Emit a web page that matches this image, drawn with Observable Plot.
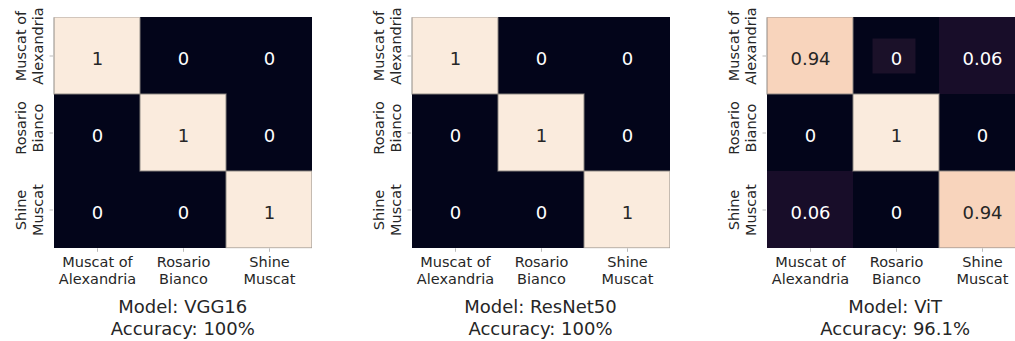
<!DOCTYPE html>
<html>
<head>
<meta charset="utf-8">
<script src="https://cdn.jsdelivr.net/npm/d3@7"></script>
<script src="https://cdn.jsdelivr.net/npm/@observablehq/plot@0.6"></script>
<style>
  body { margin: 0; background: #fff; }
  #chart { position: relative; width: 1015px; height: 341px; overflow: hidden; background: #fff;
           font-family: "DejaVu Sans", sans-serif; }
  .panel { position: absolute; top: 0; }
  .panel svg { max-width: none !important; }
  .title { position: absolute; top: 296px; width: 259px; text-align: center; font-size: 18px;
           line-height: 21.5px; color: #262626; white-space: pre; }
</style>
</head>
<body>
<div id="chart"></div>
<script>
// Grape varieties (rows = true class, columns = predicted class)
const classes = ["Muscat of\nAlexandria", "Rosario\nBianco", "Shine\nMuscat"];
const models = ["VGG16", "ResNet50", "ViT"];
const accuracies = ["100%", "100%", "96.1%"];

// Normalized confusion matrices
const vgg16Matrix    = [[1, 0, 0], [0, 1, 0], [0, 0, 1]];
const resnet50Matrix = [[1, 0, 0], [0, 1, 0], [0, 0, 1]];
const vitMatrix      = [[0.94, 0, 0.06], [0, 1, 0], [0.06, 0, 0.94]];

// Annotation backing drawn behind one of the ViT labels
const vitLabelBacking = [{actual: "Muscat of\nAlexandria", predicted: "Rosario\nBianco"}];

// "rocket" colormap stops
const rocketStops = ["#03051a", "#35193e", "#701f57", "#ad1759", "#e13342", "#f37651", "#f6b48f", "#faebdd"];
const rocket = d3.piecewise(d3.interpolateRgb, rocketStops);

const matrices = [vgg16Matrix, resnet50Matrix, vitMatrix];
const heatLeft = [53.3, 411, 765.7];
const ML = 60, MR = 10, MT = 17.3, MB = 41.7, HEAT = 259;
const yLabelShift = [-10, -5, 0];
const chart = document.getElementById("chart");

matrices.forEach((matrix, i) => {
  const cells = matrix.flatMap((row, r) =>
    row.map((v, c) => ({actual: classes[r], predicted: classes[c], value: v})));
  const light = cells.filter(d => d.value >= 0.5);
  const dark = cells.filter(d => d.value < 0.5);

  const marks = [
    Plot.cell(cells, {x: "predicted", y: "actual", fill: "value"}),
    Plot.cell(light, {x: "predicted", y: "actual", fill: "none", stroke: "#8c8782",
                      strokeWidth: 1.2, strokeOpacity: 0.8, clip: "frame"})
  ];
  if (models[i] === "ViT") {
    marks.push(Plot.cell(vitLabelBacking, {x: "predicted", y: "actual", fill: "#1b1129",
      insetLeft: 19.5, insetRight: 23.5, insetTop: 21.5, insetBottom: 20.5}));
  }
  marks.push(
    Plot.text(light, {x: "predicted", y: "actual", text: d => String(d.value),
                      fill: "#262626", fontSize: 18, dy: 3}),
    Plot.text(dark, {x: "predicted", y: "actual", text: d => String(d.value),
                     fill: "#ffffff", fontSize: 18, dy: 3}),
    Plot.axisX({tickSize: 3.5, tickFormat: () => "", stroke: "#bbbbbb", label: null}),
    Plot.axisY({tickSize: 3.5, tickFormat: () => "", stroke: "#bbbbbb", label: null}),
    Plot.text(classes, {x: d => d, frameAnchor: "bottom", lineAnchor: "top", dy: 6,
                        fontSize: 14.5, lineHeight: 1.16, fill: "#262626"}),
    ...classes.map((c, k) => Plot.text([c], {y: d => d, frameAnchor: "left", dx: -24.5,
      dy: yLabelShift[k], rotate: -90, textAnchor: "middle", lineAnchor: "middle",
      fontSize: 14.5, lineHeight: 1.16, fill: "#262626"}))
  );

  const plot = Plot.plot({
    width: ML + HEAT + MR,
    height: 290,
    marginLeft: ML, marginRight: MR, marginTop: MT, marginBottom: MB,
    style: {fontFamily: "DejaVu Sans, sans-serif", background: "transparent", overflow: "visible", maxWidth: "none"},
    x: {domain: classes, padding: 0, axis: null},
    y: {domain: classes, padding: 0, axis: null},
    color: {domain: [0, 1], interpolate: rocket},
    marks
  });

  const wrap = document.createElement("div");
  wrap.className = "panel";
  wrap.style.left = (heatLeft[i] - ML) + "px";
  wrap.style.width = (ML + HEAT + MR) + "px";
  wrap.appendChild(plot);
  chart.appendChild(wrap);

  const title = document.createElement("div");
  title.className = "title";
  title.style.left = heatLeft[i] + "px";
  title.textContent = `Model: ${models[i]}\nAccuracy: ${accuracies[i]}`;
  chart.appendChild(title);
});
</script>
</body>
</html>
